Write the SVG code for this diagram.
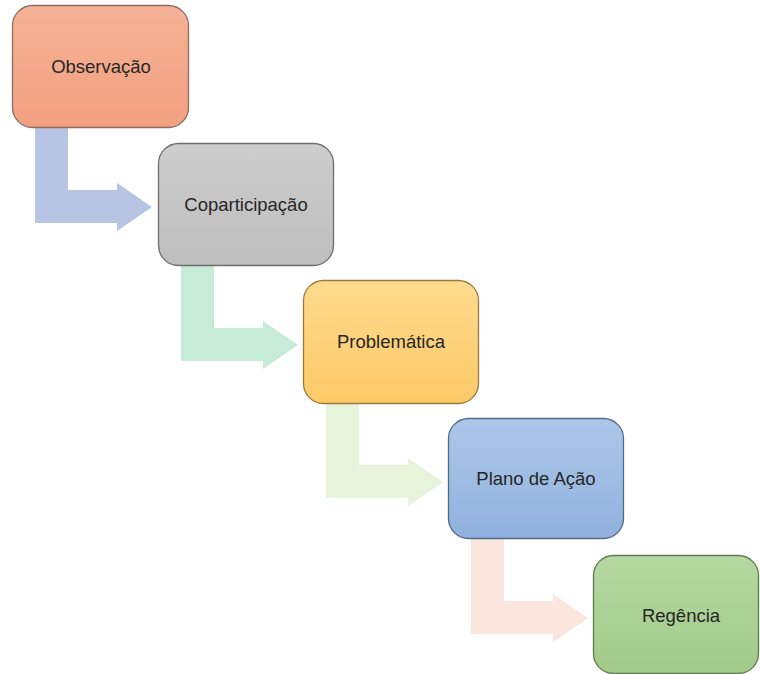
<svg xmlns="http://www.w3.org/2000/svg" width="760" height="674" viewBox="0 0 760 674">
<defs>
<linearGradient id="g1" x1="0" y1="0" x2="0" y2="1"><stop offset="0" stop-color="#f5b297"/><stop offset="1" stop-color="#f2a080"/></linearGradient>
<linearGradient id="g2" x1="0" y1="0" x2="0" y2="1"><stop offset="0" stop-color="#cdcdcd"/><stop offset="1" stop-color="#bebebe"/></linearGradient>
<linearGradient id="g3" x1="0" y1="0" x2="0" y2="1"><stop offset="0" stop-color="#ffda8e"/><stop offset="1" stop-color="#fcc968"/></linearGradient>
<linearGradient id="g4" x1="0" y1="0" x2="0" y2="1"><stop offset="0" stop-color="#adc7e9"/><stop offset="1" stop-color="#90b1de"/></linearGradient>
<linearGradient id="g5" x1="0" y1="0" x2="0" y2="1"><stop offset="0" stop-color="#b6d8a2"/><stop offset="1" stop-color="#a2ca89"/></linearGradient>
</defs>
<style>
.box{stroke-width:1.3}
.lbl{font-family:"Liberation Sans",Arial,sans-serif;font-size:18.5px;fill:#262626;text-anchor:middle}
</style>
<rect width="760" height="674" fill="#ffffff"/>
<g id="connectors">
<path d="M35,128 H68 V190 H117 V183 L152,207 L117,231 V223 H35 Z" fill="#b8c4e4"/>
<path d="M181,266 H214 V328 H263 V321 L298,345 L263,369 V361 H181 Z" fill="#c6ebd9"/>
<path d="M326,403 H359 V465 H408 V458 L443,482 L408,506 V498 H326 Z" fill="#e8f3dc"/>
<path d="M471,539 H504 V601 H553 V594 L588,618 L553,642 V634 H471 Z" fill="#fbe6de"/>
</g>
<g id="n1"><rect class="box" x="12.5" y="5.5" width="176" height="122" rx="20" fill="url(#g1)" stroke="#8c6d62"/><text class="lbl" x="101" y="73">Observação</text></g>
<g id="n2"><rect class="box" x="158.5" y="143.5" width="175" height="122" rx="20" fill="url(#g2)" stroke="#6d6d6d"/><text class="lbl" x="246" y="211">Coparticipação</text></g>
<g id="n3"><rect class="box" x="303.5" y="280.5" width="175" height="123" rx="20" fill="url(#g3)" stroke="#9a7b3c"/><text class="lbl" x="391" y="348">Problemática</text></g>
<g id="n4"><rect class="box" x="448.5" y="418.5" width="175" height="120" rx="20" fill="url(#g4)" stroke="#4f6b8c"/><text class="lbl" x="536" y="485">Plano de Ação</text></g>
<g id="n5"><rect class="box" x="593.5" y="555.5" width="165" height="118" rx="20" fill="url(#g5)" stroke="#5f7a50"/><text class="lbl" x="681" y="622">Regência</text></g>
</svg>
